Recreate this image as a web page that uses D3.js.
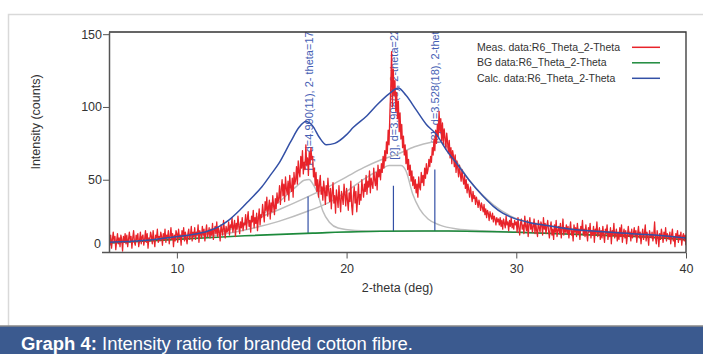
<!DOCTYPE html>
<html>
<head>
<meta charset="utf-8">
<script src="https://cdn.jsdelivr.net/npm/d3@7"></script>
<style>
  html, body { margin: 0; padding: 0; background: #fff; }
  svg { display: block; font-family: "Liberation Sans", Arial, sans-serif; }
</style>
</head>
<body>
<svg id="chart" width="703" height="354"></svg>
<script>
// measured counts, 2-theta from 6.00 to 40.00 in 0.05 deg steps (one row = 1 deg)
const measStart = 6;
const measStep = 0.05;
const measured = [
  10, 5, 12, 3, 9, 14, 7, 11, 2, 8, 13, 6, 10, 4, 12, 9, 1, 11, 7, 13,
  6, 12, 4, 9, 14, 8, 11, 3, 10, 15, 7, 5, 12, 9, 13, 4, 8, 14, 6, 11,
  12, 5, 9, 15, 7, 13, 3, 10, 8, 14, 11, 6, 15, 9, 4, 12, 10, 16, 7, 11,
  8, 14, 11, 5, 13, 9, 16, 7, 12, 10, 15, 6, 11, 17, 9, 13, 4, 12, 8, 15,
  13, 7, 16, 10, 12, 5, 15, 11, 17, 8, 14, 10, 6, 13, 16, 9, 12, 18, 8, 14,
  11, 17, 9, 14, 12, 19, 7, 15, 13, 10, 18, 12, 16, 8, 14, 19, 11, 13, 17, 10,
  16, 12, 20, 9, 15, 18, 13, 21, 11, 17, 14, 8, 19, 15, 12, 22, 16, 10, 18, 14,
  15, 21, 12, 19, 17, 24, 14, 18, 22, 11, 20, 16, 25, 18, 13, 21, 17, 24, 15, 20,
  19, 26, 16, 23, 28, 18, 22, 14, 25, 21, 29, 17, 24, 20, 27, 15, 23, 30, 19, 26,
  24, 33, 27, 21, 35, 29, 38, 25, 31, 36, 23, 34, 28, 39, 32, 26, 37, 30, 41, 34,
  37, 46, 33, 43, 50, 39, 47, 35, 52, 44, 40, 49, 36, 53, 45, 42, 51, 38, 55, 47,
  50, 59, 47, 63, 55, 52, 66, 58, 70, 54, 62, 57, 74, 60, 65, 53, 69, 61, 72, 64,
  66, 52, 58, 46, 55, 42, 50, 38, 47, 53, 40, 45, 36, 49, 43, 33, 46, 39, 51, 42,
  35, 44, 30, 41, 48, 34, 39, 27, 43, 37, 31, 46, 36, 28, 42, 38, 33, 47, 40, 32,
  44, 36, 29, 41, 35, 49, 32, 26, 39, 45, 34, 42, 28, 37, 47, 33, 40, 36, 50, 43,
  38, 47, 42, 53, 40, 49, 45, 56, 41, 51, 47, 44, 58, 50, 46, 55, 43, 60, 52, 57,
  50, 61, 55, 66, 58, 70, 63, 76, 68, 84, 74, 95, 112, 138, 100, 126, 108, 118, 97, 110,
  92, 104, 83, 96, 78, 88, 72, 80, 67, 74, 61, 70, 57, 64, 53, 60, 49, 56, 46, 52,
  44, 50, 41, 47, 38, 52, 45, 43, 55, 48, 53, 46, 58, 51, 61, 54, 57, 64, 59, 66,
  62, 72, 67, 78, 70, 84, 75, 88, 80, 97, 83, 92, 77, 89, 74, 85, 79, 71, 82, 76,
  68, 77, 65, 72, 61, 70, 66, 59, 67, 55, 63, 58, 52, 60, 54, 49, 57, 51, 47, 53,
  44, 50, 41, 47, 43, 38, 45, 40, 35, 42, 37, 39, 33, 38, 35, 31, 36, 33, 29, 34,
  31, 28, 33, 26, 30, 24, 29, 27, 22, 28, 25, 23, 27, 21, 25, 23, 19, 24, 21, 23,
  19, 24, 18, 22, 16, 23, 20, 17, 25, 19, 21, 15, 22, 18, 24, 17, 20, 16, 22, 19,
  21, 14, 24, 17, 12, 20, 23, 16, 19, 13, 25, 18, 15, 22, 11, 19, 24, 16, 20, 14,
  18, 23, 13, 20, 15, 11, 22, 17, 14, 21, 19, 12, 24, 16, 20, 13, 18, 22, 15, 10,
  17, 21, 12, 16, 9, 19, 14, 22, 11, 15, 18, 13, 20, 10, 16, 23, 12, 17, 14, 19,
  13, 18, 10, 16, 21, 12, 15, 8, 19, 14, 17, 11, 20, 13, 16, 9, 18, 15, 22, 12,
  16, 11, 19, 13, 8, 17, 14, 20, 10, 15, 12, 18, 7, 16, 13, 21, 11, 14, 17, 9,
  15, 10, 18, 12, 7, 16, 13, 19, 9, 14, 11, 17, 6, 15, 12, 20, 10, 13, 16, 8,
  14, 9, 17, 11, 19, 7, 13, 16, 10, 15, 6, 12, 18, 11, 14, 8, 16, 10, 13, 17,
  11, 15, 7, 13, 18, 10, 14, 6, 12, 16, 9, 13, 19, 8, 14, 11, 5, 15, 12, 10,
  14, 8, 12, 21, 10, 6, 15, 11, 4, 13, 9, 16, 12, 7, 14, 10, 17, 8, 13, 11,
  9, 14, 6, 12, 16, 8, 11, 4, 13, 10, 15, 7, 12, 9, 14, 5, 11, 13, 8, 12,
  5
];

// background
const bgTheta = [6, 10, 14, 18, 22, 26, 30, 34, 37, 40];
const bgValues = [6.5, 9, 11.5, 13.3, 14.6, 14.8, 13.9, 12.3, 11, 8.8];

// calculated profile
const calcTheta = [6, 8, 9.8, 11, 11.8, 12.5, 13.1, 13.7, 14.3, 15, 15.5, 16, 16.7, 17.2, 17.6, 18, 18.4, 18.8, 19.3, 20, 20.4, 21.2, 21.8, 22.5, 23.05, 23.5, 24.1, 24.7, 25.3, 25.9, 26.5, 27.2, 28.1, 28.65, 29.2, 29.8, 30.8, 31.8, 33, 34.7, 36, 37.7, 40];
const calcValues = [7, 8.2, 10.7, 12.5, 14.6, 18, 22.6, 29, 36.3, 45, 53, 61, 76, 86, 90, 87, 79, 74, 75, 81, 86, 94, 101.5, 109, 113, 108, 98, 88, 81, 70, 61, 50, 38, 31.7, 27, 23.8, 20.5, 18.5, 16.3, 14.6, 13.5, 12.3, 10];

// single peak components (background included)
const peak1Theta = [6, 8, 10, 12, 13, 14, 15, 16, 16.5, 17, 17.5, 17.8, 18.0, 18.3, 18.6, 19, 19.5, 20.5, 22, 26, 30, 34, 37, 40];
const peak1Values = [6.8, 8.3, 10.2, 12.8, 15.4, 19.5, 26, 34.5, 39.7, 44.9, 49.6, 50.2, 47.3, 40.4, 28.5, 20.6, 16.8, 15.1, 14.6, 14.8, 13.9, 12.3, 11, 8.8];
const peak2Theta = [6, 10, 12, 14, 16, 17.7, 19, 20, 21, 22, 22.5, 23.2, 23.5, 23.9, 24.3, 24.8, 25.5, 26.5, 28, 30, 34, 37, 40];
const peak2Values = [6.6, 9.3, 11.3, 15.5, 21.4, 28.3, 34.6, 42, 50.3, 57, 59.7, 59.7, 56, 40, 30, 23, 18.8, 16.2, 14.9, 14, 12.4, 11.1, 8.9];
const peak3Theta = [6, 10, 12, 14, 16, 17.7, 19, 20, 21, 22, 23, 24, 25, 25.4, 26, 26.5, 27.2, 28, 28.65, 29.8, 31.8, 34.7, 37.7, 40];
const peak3Values = [7, 10, 13.3, 20.5, 29.4, 38.2, 45.6, 52, 58.3, 63.6, 67.6, 72.7, 75.8, 76.3, 71.8, 62.2, 50.2, 39.6, 32.8, 24.3, 18.8, 14.7, 12.3, 9.8];

// peak markers
const peakPos = [17.73, 22.76, 25.2];
const peakStick = [38.4, 45.9, 57];
const peakLabels = [
  "[1], d=4.990(11), 2- theta=17.76(4)",
  "[2], d=3.908(8), 2-theta=22.74(5)",
  "[3], d=3.528(18), 2-theta=25.22(13)"
];

const legendNames = ["Meas. data:R6_Theta_2-Theta", "BG data:R6_Theta_2-Theta", "Calc. data:R6_Theta_2-Theta"];
const legendColors = ["#e8232a", "#1d8a3c", "#3350a6"];
const xTicks = [10, 20, 30, 40];
const yTicks = [0, 50, 100, 150];

const svg = d3.select("#chart");
const W = 703, H = 354;

// outer frame and caption band
svg.append("rect").attr("x", 8.5).attr("y", 14.5).attr("width", 720).attr("height", 312)
  .attr("fill", "none").attr("stroke", "#d9d9d9").attr("stroke-width", 1.5);
svg.append("rect").attr("x", 0).attr("y", 326).attr("width", W).attr("height", H - 326)
  .attr("fill", "#3b5a8f");
svg.append("line").attr("x1", 0).attr("x2", W).attr("y1", 326).attr("y2", 326)
  .attr("stroke", "#8a8a8a").attr("stroke-width", 1.5);
const cap = svg.append("text").attr("x", 21).attr("y", 350)
  .attr("fill", "#fff").style("font-size", "17.5px")
  .attr("textLength", 392).attr("lengthAdjust", "spacingAndGlyphs");
cap.append("tspan").style("font-weight", "bold").text("Graph 4:");
cap.append("tspan").text(" Intensity ratio for branded cotton fibre.");

const pL = 109, pR = 686, pT = 32, pB = 252.5;
const x = d3.scaleLinear().domain([6, 40]).range([pL, pR]);
const y = d3.scaleLinear().domain([0, 151.5]).range([pB, pT]);

svg.append("clipPath").attr("id", "plotclip")
  .append("rect").attr("x", pL).attr("y", pT).attr("width", pR - pL).attr("height", pB - pT);

const plot = svg.append("g").attr("clip-path", "url(#plotclip)");

// peak labels (drawn under the curves)
plot.selectAll("text.peak")
  .data(peakPos)
  .join("text")
  .attr("class", "peak")
  .attr("transform", (d, i) => `translate(${x(d) + 4.5},${y(peakStick[i]) - 26}) rotate(-90)`)
  .attr("fill", "#4660b4")
  .style("font-size", "11px")
  .text((d, i) => peakLabels[i]);

const line = d3.line().curve(d3.curveMonotoneX);
const zip = (ts, vs) => ts.map((t, i) => [x(t), y(vs[i])]);

[[peak1Theta, peak1Values], [peak2Theta, peak2Values], [peak3Theta, peak3Values]].forEach(([ts, vs]) => {
  plot.append("path").attr("d", line(zip(ts, vs)))
    .attr("fill", "none").attr("stroke", "#bdbdbd").attr("stroke-width", 1.5);
});

// sticks
const bg = d3.scaleLinear().domain(bgTheta).range(bgValues);
plot.selectAll("line.stick")
  .data(peakPos)
  .join("line")
  .attr("class", "stick")
  .attr("x1", d => x(d)).attr("x2", d => x(d))
  .attr("y1", d => y(bg(d))).attr("y2", (d, i) => y(peakStick[i]))
  .attr("stroke", "#3350a6").attr("stroke-width", 1.2);

plot.append("path").attr("d", line(zip(bgTheta, bgValues)))
  .attr("fill", "none").attr("stroke", legendColors[1]).attr("stroke-width", 1.6);

plot.append("path")
  .attr("d", d3.line()(measured.map((v, i) => [x(measStart + i * measStep), y(v)])))
  .attr("fill", "none").attr("stroke", legendColors[0]).attr("stroke-width", 1.3)
  .attr("stroke-linejoin", "round");

plot.append("path").attr("d", line(zip(calcTheta, calcValues)))
  .attr("fill", "none").attr("stroke", legendColors[2]).attr("stroke-width", 1.5);

// frame top / right
svg.append("path").attr("d", `M${pL},${pT}H${pR}V${pB}`)
  .attr("fill", "none").attr("stroke", "#333").attr("stroke-width", 1.3);

// axes
const gx = svg.append("g").attr("transform", `translate(0,${pB})`)
  .call(d3.axisBottom(x).tickValues(xTicks).tickSize(6).tickSizeOuter(0).tickFormat(d3.format("d")));
gx.select(".domain").attr("d", `M${pL - 7},0H${pR}`).attr("stroke", "#555").attr("stroke-width", 1.5);
gx.selectAll(".tick line").attr("stroke", "#555");
gx.selectAll(".tick text").attr("fill", "#333").style("font-size", "12.5px").attr("dy", "0.95em")
  .style("font-family", "'Liberation Sans', Arial, sans-serif");

const gy = svg.append("g").attr("transform", `translate(${pL},0)`)
  .call(d3.axisLeft(y).tickValues(yTicks).tickSize(6).tickSizeOuter(0).tickFormat(d3.format("d")));
gy.select(".domain").attr("stroke", "#555").attr("stroke-width", 1.5);
gy.selectAll(".tick line").attr("stroke", "#555");
gy.selectAll(".tick text").attr("fill", "#333").style("font-size", "12.5px").attr("x", -7)
  .style("font-family", "'Liberation Sans', Arial, sans-serif");
gy.selectAll(".tick").filter(d => d === 0).select("line").remove();
gy.selectAll(".tick").filter(d => d === 0).select("text").attr("dy", "-0.4em").attr("x", -8);

// axis titles
svg.append("text").attr("x", (pL + pR) / 2).attr("y", 292)
  .attr("text-anchor", "middle").attr("fill", "#333").style("font-size", "12.5px")
  .text("2-theta (deg)");
svg.append("text").attr("transform", "translate(40,122) rotate(-90)")
  .attr("text-anchor", "middle").attr("fill", "#333").style("font-size", "12.5px")
  .text("Intensity (counts)");

// legend
const lg = svg.append("g").selectAll("g")
  .data(legendNames)
  .join("g")
  .attr("transform", (d, i) => `translate(0,${47.3 + i * 15.5})`);
lg.append("text").attr("x", 477).attr("dy", "0.35em").attr("fill", "#333")
  .style("font-size", "10.5px").text(d => d);
lg.append("line").attr("x1", 632).attr("x2", 660)
  .attr("stroke", (d, i) => legendColors[i]).attr("stroke-width", 1.5);
</script>
</body>
</html>
